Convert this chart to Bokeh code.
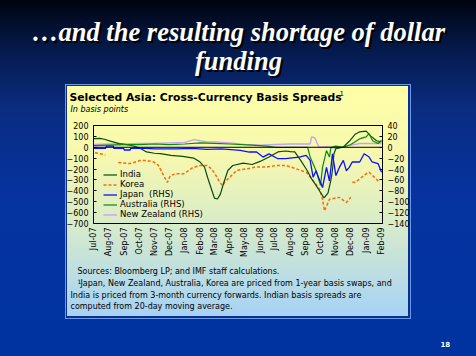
import math
import numpy as np
import pandas as pd
from bokeh.plotting import figure
from bokeh.models import (Range1d, LinearAxis, FixedTicker, DatetimeTickFormatter,
                          Legend, LegendItem, Span, ColumnDataSource, GridBox, Column)
from bokeh.core.properties import value
from bokeh.embed import file_html
from bokeh.resources import INLINE

# ---------------- data (basis points; RHS series on right axis) ----------------
india_dates = ["2007-07-02", "2007-07-14", "2007-07-23", "2007-08-04", "2007-08-13", "2007-08-22",
               "2007-09-13", "2007-09-25", "2007-10-04", "2007-10-16", "2007-11-01", "2007-11-13",
               "2007-12-04", "2007-12-28", "2008-01-19", "2008-02-01", "2008-02-10", "2008-02-16",
               "2008-02-25", "2008-03-01", "2008-03-07", "2008-03-13", "2008-03-19", "2008-03-28",
               "2008-04-07", "2008-04-28", "2008-05-16", "2008-06-01", "2008-06-19", "2008-07-07",
               "2008-07-22", "2008-08-01", "2008-08-10", "2008-08-22", "2008-09-04", "2008-09-13",
               "2008-09-22", "2008-10-01", "2008-10-08", "2008-10-16", "2008-10-22", "2008-10-25",
               "2008-10-28", "2008-11-01", "2008-11-16", "2008-11-28", "2008-12-10", "2008-12-19",
               "2009-01-01", "2009-01-10", "2009-01-22", "2009-02-01"]
india_bps = [80, 82, 74, 56, 45, 34,
             19, 5, -12, -43, -55, -59,
             -74, -83, -99, -136, -182, -275,
             -399, -467, -475, -430, -337, -213,
             -167, -145, -158, -130, -90, -43,
             -34, -40, -43, -120, -213, -290,
             -350, -415, -465, -420, -300, -213,
             -59, -12, 3, 55, 120, 142,
             148, 105, 60, 50]

korea_dates = ["2007-07-04", "2007-07-15", "2007-07-25", "2007-08-05", "2007-08-20", "2007-09-13",
               "2007-10-03", "2007-10-16", "2007-10-31", "2007-11-09", "2007-11-16", "2007-11-25",
               "2007-11-27", "2007-12-03", "2007-12-13", "2007-12-30", "2008-01-09", "2008-01-19",
               "2008-02-02", "2008-02-15", "2008-02-24", "2008-03-02", "2008-03-10", "2008-03-17",
               "2008-03-22", "2008-03-28", "2008-04-08", "2008-04-14", "2008-05-04", "2008-05-24",
               "2008-06-14", "2008-07-03", "2008-07-23", "2008-08-13", "2008-09-02", "2008-09-16",
               "2008-09-29", "2008-10-05", "2008-10-09", "2008-10-19", "2008-11-08", "2008-11-22",
               "2008-12-01", "2008-12-02", "2008-12-04", "2008-12-10", "2009-01-01", "2009-01-07",
               "2009-01-21", "2009-01-28"]
korea_bps = [-50, -60, -70, np.nan, -140, -150,
             -121, -121, -136, -167, -229, -306,
             -322, -260, -244, -244, -213, -182,
             -167, -167, -198, -244, -306, -352,
             -320, -291, -244, -213, -198, -182,
             -182, -167, -167, -198, -229, -306,
             -384, -477, -584, -477, -460, -507,
             -460, np.nan, -322, -322, -244, -229,
             -291, -322]

japan_dates = ["2007-07-02", "2007-07-25", "2007-07-27", "2007-08-10", "2007-08-11", "2007-08-31",
               "2007-09-01", "2007-09-13", "2007-09-14", "2007-10-15", "2007-11-01", "2007-12-15",
               "2008-01-15", "2008-02-15", "2008-03-15", "2008-04-22", "2008-05-10", "2008-05-25",
               "2008-06-07", "2008-06-19", "2008-07-07", "2008-07-22", "2008-08-19", "2008-09-02",
               "2008-09-10", "2008-09-16", "2008-09-22", "2008-09-28", "2008-10-05", "2008-10-13",
               "2008-10-19", "2008-10-25", "2008-11-01", "2008-11-08", "2008-11-16", "2008-11-22",
               "2008-11-28", "2008-12-04", "2008-12-19", "2008-12-28", "2009-01-07", "2009-01-13",
               "2009-01-25", "2009-02-01"]
japan_bps = [-2, -2, 2, 2, -2, -2,
             -5, -5, -2, -2, -3, -3,
             -2, -4, -3, -5.6, -8.7, -8.7,
             -18, -12, -21, -21, -18, -15,
             -24, -55, -43, -58, -74, -37,
             -62, -12, -52, -37, -24, -43,
             -37, -27, -27, -12, -18, -27,
             -30, -46]

australia_dates = ["2007-07-02", "2007-08-01", "2007-09-01", "2007-10-01", "2007-11-01", "2007-12-01",
                   "2008-01-01", "2008-02-01", "2008-03-01", "2008-04-01", "2008-05-16", "2008-06-15",
                   "2008-07-03", "2008-08-01", "2008-09-05", "2008-09-10", "2008-09-22", "2008-09-28",
                   "2008-10-01", "2008-10-05", "2008-10-13", "2008-10-19", "2008-10-22", "2008-11-01",
                   "2008-11-16", "2008-12-01", "2008-12-20", "2009-01-01", "2009-01-07", "2009-01-14",
                   "2009-01-25", "2009-02-01"]
australia_bps = [3, 4, 5, 5, 6, 5,
                 6, 8, 7, 6, 4, 2,
                 0, 0, 0, -18, -43, -61,
                 -70, -37, -6, -18, 0, 2,
                 0, 5, 16, 19, 25, 12,
                 7, 13]

nz_dates = ["2007-07-02", "2007-08-01", "2007-09-01", "2007-10-01", "2007-11-01", "2007-12-01",
            "2008-01-01", "2008-01-20", "2008-02-01", "2008-02-15", "2008-03-01", "2008-04-01",
            "2008-05-01", "2008-06-01", "2008-07-01", "2008-08-01", "2008-09-10", "2008-09-13",
            "2008-09-20", "2008-09-24", "2008-09-28", "2008-10-15", "2008-11-01", "2008-11-15",
            "2008-12-01", "2008-12-20", "2009-01-01", "2009-02-01"]
nz_bps = [5, 6, 6, 7, 7, 8,
          9, 14, 12, 10, 10, 8,
          5, 4, 5, 6, 6, 19,
          17, 8, 0, 1, -2, 0,
          4, 7, 7, 7]

left_ticks = [200, 100, 0, -100, -200, -300, -400, -500, -600, -700]
right_ticks = [40, 20, 0, -20, -40, -60, -80, -100, -120, -140]
month_ticks = ["2007-07-01", "2007-08-01", "2007-09-01", "2007-10-01", "2007-11-01", "2007-12-01",
               "2008-01-01", "2008-02-01", "2008-03-01", "2008-04-01", "2008-05-01", "2008-06-01",
               "2008-07-01", "2008-08-01", "2008-09-01", "2008-10-01", "2008-11-01", "2008-12-01",
               "2009-01-01", "2009-02-01"]

# ---------------- layout ----------------
W, H = 476, 356
FL, FR, FT, FB = 93, 382, 125, 223   # plot-area edges in page pixels
UI = "DejaVu Sans"
SERIF = "Liberation Serif"

# background slide figure: frame = whole page, coordinates = page pixels (y down)
bg = figure(width=W, height=H, x_range=Range1d(0, W), y_range=Range1d(H, 0),
            output_backend="svg", toolbar_location=None, min_border=0,
            x_axis_location=None, y_axis_location=None)
bg.grid.visible = False
bg.outline_line_color = None
bg.border_fill_color = None
bg.background_fill_color = None
bg.styles = {"background":
             "linear-gradient(180deg,#ffffa6 0%,#f6f8ae 30%,#d8ecca 60%,#a6d2f6 100%) 67px 86px / 341px 230px no-repeat,"
             "linear-gradient(#0a2f8e,#0a2f8e) 66px 85px / 344px 233px no-repeat,"
             "linear-gradient(#6a9ae6,#6a9ae6) 65px 84px / 346px 235px no-repeat,"
             "linear-gradient(180deg,#000410 0%,#051a4c 14%,#0a2c80 30%,#0633a0 55%,#0033a0 100%)"}

def txt(s, px, py, size, color="black", style="normal", font=UI, align="left", baseline="middle"):
    bg.text(x=[px], y=[py], text=[s], text_font=value(font), text_font_size=value(size),
            text_color=color, text_font_style=style, text_align=align, text_baseline=baseline)

for dx, dy, col in ((2, 2, "black"), (0, 0, "white")):
    txt("\u2026and the resulting shortage of dollar", 238 + dx, 31 + dy, "26.5px", col, "bold italic", SERIF, "center")
    txt("funding", 238 + dx, 60 + dy, "26.5px", col, "bold italic", SERIF, "center")

txt("Selected Asia: Cross-Currency Basis Spreads", 69, 97, "10.8px", style="bold")
txt("1", 339, 92, "7px")
txt("In basis points", 70, 109, "8px", style="italic")

txt("Sources: Bloomberg LP; and IMF staff calculations.", 77, 271, "8px")
txt("1", 77, 281, "6px")
txt("Japan, New Zealand, Australia, Korea are priced from 1-year basis swaps, and", 80, 283, "8px")
txt("India is priced from 3-month currency forwards. Indian basis spreads are", 70, 295, "8px")
txt("computed from 20-day moving average.", 70, 306, "8px")

txt("18", 440, 343, "7px", color="white", style="bold")

# chart figure, overlaid on the slide
p = figure(width=W, height=H, x_axis_type="datetime", output_backend="svg",
           toolbar_location=None,
           x_range=Range1d(pd.Timestamp("2007-07-01"), pd.Timestamp("2009-02-03")),
           y_range=Range1d(-700, 200),
           min_border_left=FL, min_border_right=W - FR,
           min_border_top=FT, min_border_bottom=H - FB)
p.extra_y_ranges = {"rhs": Range1d(-140, 40)}
p.border_fill_color = None
p.background_fill_color = None
p.outline_line_color = "black"
p.outline_line_width = 1
p.xgrid.visible = False
p.ygrid.visible = False

# keep the two overlaid figures from aligning their frames
for fig in (bg, p):
    if "frame_align" in fig.properties():
        fig.frame_align = False

xa = p.xaxis[0]
xa.ticker = FixedTicker(ticks=[pd.Timestamp(d).value / 1e6 for d in month_ticks])
fmt = "%b-%y"
xa.formatter = DatetimeTickFormatter(days=fmt, months=fmt, years=fmt, hours=fmt,
                                     hourmin=fmt, minutes=fmt, seconds=fmt)
xa.major_label_orientation = math.pi / 2
xa.major_tick_in = 0
xa.major_tick_out = 0
xa.minor_tick_line_color = None
xa.axis_line_color = "black"
xa.major_label_standoff = 4

ya = p.yaxis[0]
ya.ticker = FixedTicker(ticks=left_ticks)
ra = LinearAxis(y_range_name="rhs", ticker=FixedTicker(ticks=right_ticks))
p.add_layout(ra, "right")
for ax in (xa, ya, ra):
    ax.major_label_text_font = UI
    ax.major_label_text_font_size = "8px"
    ax.major_label_text_color = "black"
for ax in (ya, ra):
    ax.major_tick_in = 3
    ax.major_tick_out = 0
    ax.minor_tick_line_color = None
    ax.axis_line_color = "black"
    ax.major_label_standoff = 5

p.add_layout(Span(location=0, dimension="width", line_color="black", line_width=1))

def src(d, v):
    return ColumnDataSource(dict(x=pd.to_datetime(d), y=v))

r_nz = p.line("x", "y", source=src(nz_dates, nz_bps), y_range_name="rhs",
              line_color="#c9a0f5", line_width=1.4)
r_kor = p.line("x", "y", source=src(korea_dates, korea_bps), line_color="#ff6a00",
               line_width=1.5, line_dash="3 2")
r_ind = p.line("x", "y", source=src(india_dates, india_bps), line_color="#0b4a0b",
               line_width=1.2)
r_aus = p.line("x", "y", source=src(australia_dates, australia_bps), y_range_name="rhs",
               line_color="#0a8a0a", line_width=1.2)
r_jpn = p.line("x", "y", source=src(japan_dates, japan_bps), y_range_name="rhs",
               line_color="#0a10ff", line_width=1.3)

leg = Legend(items=[LegendItem(label="India", renderers=[r_ind]),
                    LegendItem(label="Korea", renderers=[r_kor]),
                    LegendItem(label="Japan  (RHS)", renderers=[r_jpn]),
                    LegendItem(label="Australia (RHS)", renderers=[r_aus]),
                    LegendItem(label="New Zealand (RHS)", renderers=[r_nz])],
             location=(10, 4), background_fill_alpha=0, border_line_alpha=0,
             padding=0, margin=0, spacing=0, glyph_height=9, label_height=9,
             glyph_width=14, label_standoff=3, label_text_font=UI,
             label_text_font_size="8.5px", label_text_color="black")
p.add_layout(leg)

page = GridBox(children=[(Column(children=[bg], width=W, height=H), 0, 0),
                         (Column(children=[p], width=W, height=H), 0, 0)],
               width=W, height=H)

open("out.html", "w").write(file_html(page, INLINE))
